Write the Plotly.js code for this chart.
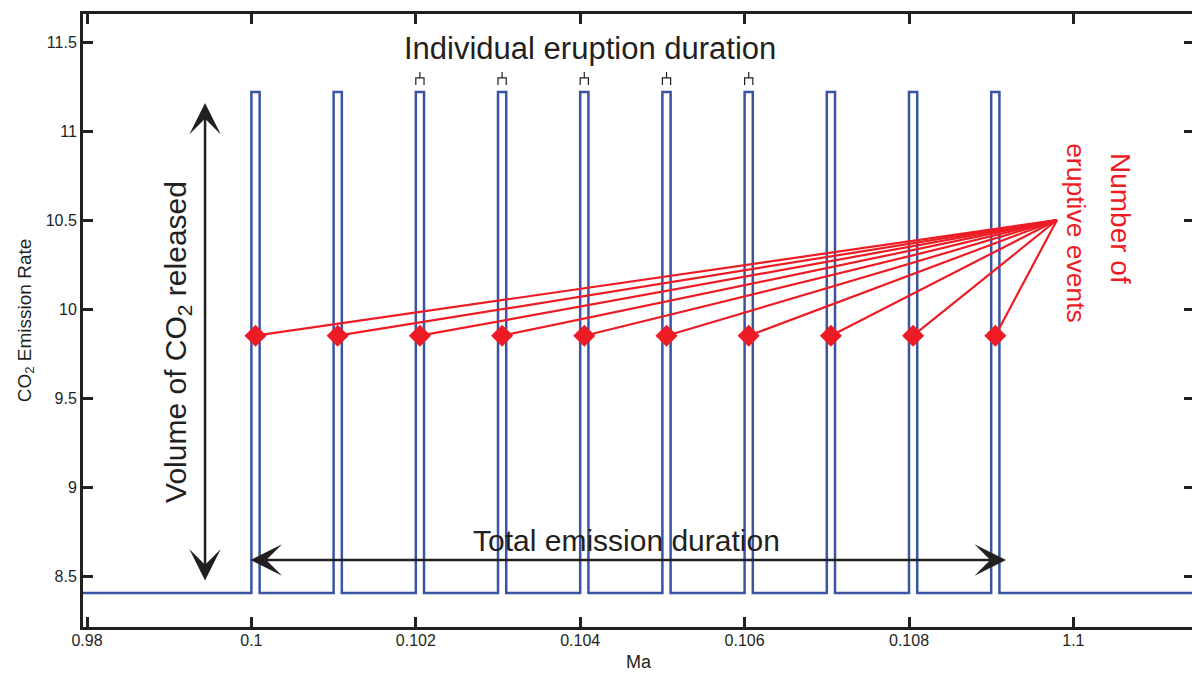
<!DOCTYPE html>
<html>
<head>
<meta charset="utf-8">
<script src="https://cdn.plot.ly/plotly-3.0.1.min.js"></script>
<style>
html, body { margin: 0; padding: 0; overflow: hidden; background: #fff; }
#chart { width: 1196px; height: 679px; }
</style>
</head>
<body>
<div id="chart"></div>
<script>
// ---- data ----
const pulseStarts = [0.100, 0.101, 0.102, 0.103, 0.104, 0.105, 0.106, 0.107, 0.108, 0.109];
const pulseDuration = 0.0001;
const baselineRate = 8.404;
const peakRate = 11.219;
const seriesStart = 0.0979;
const seriesEnd = 0.1116;
const eventX = [0.10005, 0.10105, 0.10205, 0.10305, 0.10405, 0.10505, 0.10605, 0.10705, 0.10805, 0.10905];
const eventY = [9.85, 9.85, 9.85, 9.85, 9.85, 9.85, 9.85, 9.85, 9.85, 9.85];
const convergeX = 0.1098;
const convergeY = 10.5;
const bracketPulses = [0.102, 0.103, 0.104, 0.105, 0.106];
const bracketLevels = { bottom: 11.258, bar: 11.298, top: 11.331 };
const xTickVals = [0.098, 0.100, 0.102, 0.104, 0.106, 0.108, 0.110];
const xTickText = ['0.98', '0.1', '0.102', '0.104', '0.106', '0.108', '1.1'];
const yTickVals = [8.5, 9, 9.5, 10, 10.5, 11, 11.5];
const yTickText = ['8.5', '9', '9.5', '10', '10.5', '11', '11.5'];

// ---- build step series ----
const lx = [seriesStart], ly = [baselineRate];
pulseStarts.forEach(s => {
  const e = s + pulseDuration;
  lx.push(s, s, e, e);
  ly.push(baselineRate, peakRate, peakRate, baselineRate);
});
lx.push(seriesEnd); ly.push(baselineRate);

// red connector lines
const rx = [], ry = [];
eventX.forEach((x, i) => { rx.push(x, convergeX, null); ry.push(eventY[i], convergeY, null); });

// brackets
const bx = [], by = [];
bracketPulses.forEach(s => {
  const e = s + pulseDuration, m = s + pulseDuration / 2;
  bx.push(s, s, e, e, null, m, m, null);
  by.push(bracketLevels.bottom, bracketLevels.bar, bracketLevels.bar, bracketLevels.bottom, null,
          bracketLevels.bar, bracketLevels.top, null);
});

const ink = '#231F20';
const red = '#ED1C24';
const blue = '#3A54A4';
const font = 'Liberation Sans, Arial, sans-serif';

const traces = [
  { x: lx, y: ly, mode: 'lines', line: { color: blue, width: 2.5 }, hoverinfo: 'skip' },
  { x: rx, y: ry, mode: 'lines', line: { color: red, width: 2.2 }, hoverinfo: 'skip' },
  { x: eventX, y: eventY, mode: 'markers', marker: { symbol: 'diamond', size: 17, color: red, line: { width: 0 } }, hoverinfo: 'skip' },
  { x: bx, y: by, mode: 'lines', line: { color: ink, width: 1.2 }, hoverinfo: 'skip' }
];

const arrowCommon = {
  xref: 'x', yref: 'y', axref: 'x', ayref: 'y', text: '', showarrow: true,
  arrowhead: 3, startarrowhead: 3, arrowside: 'end+start',
  arrowsize: 2.1, startarrowsize: 2.1, arrowwidth: 2.5, arrowcolor: ink,
  standoff: 0, startstandoff: 0
};

const annotations = [
  Object.assign({}, arrowCommon, { x: 0.099436, y: 11.157, ax: 0.099436, ay: 8.466 }),
  Object.assign({}, arrowCommon, { x: 0.109180, y: 8.590, ax: 0.099971, ay: 8.590 }),
  { xref: 'x', yref: 'y', x: 0.104119, y: 11.466, text: 'Individual eruption duration', showarrow: false,
    xanchor: 'center', yanchor: 'middle', font: { family: font, size: 31, color: ink } },
  { xref: 'x', yref: 'y', x: 0.104569, y: 8.702, text: 'Total emission duration', showarrow: false,
    xanchor: 'center', yanchor: 'middle', font: { family: font, size: 30, color: ink } },
  { xref: 'x', yref: 'y', x: 0.099107, y: 9.815, text: 'Volume of CO<sub>2</sub> released', showarrow: false,
    textangle: -90, xanchor: 'center', yanchor: 'middle', font: { family: font, size: 30, color: ink } },
  { xref: 'x', yref: 'y', x: 0.110580, y: 10.511, text: 'Number of', showarrow: false,
    textangle: 90, xanchor: 'center', yanchor: 'middle', font: { family: font, size: 28, color: red } },
  { xref: 'x', yref: 'y', x: 0.110030, y: 10.427, text: 'eruptive events', showarrow: false,
    textangle: 90, xanchor: 'center', yanchor: 'middle', font: { family: font, size: 26.5, color: red } }
];

const axisCommon = {
  showline: true, linewidth: 3, linecolor: ink, mirror: 'ticks',
  ticks: 'inside', ticklen: 10, tickwidth: 3, tickcolor: ink,
  showgrid: false, zeroline: false,
  tickfont: { family: font, size: 16, color: ink }
};

const layout = {
  width: 1196, height: 679,
  margin: { l: 83, r: 2, t: 14, b: 52 },
  paper_bgcolor: '#fff', plot_bgcolor: '#fff',
  showlegend: false,
  hovermode: false,
  xaxis: Object.assign({}, axisCommon, {
    range: [0.0979513, 0.1114672], tickmode: 'array', tickvals: xTickVals, ticktext: xTickText,
    ticklabelstandoff: -3,
    title: { text: 'Ma', font: { family: font, size: 18, color: ink }, standoff: 8 }
  }),
  yaxis: Object.assign({}, axisCommon, {
    range: [8.2135, 11.6573], tickmode: 'array', tickvals: yTickVals, ticktext: yTickText,
    title: { text: 'CO<sub>2</sub> Emission Rate', font: { family: font, size: 19, color: ink }, standoff: 10 }
  }),
  annotations: annotations
};

Plotly.newPlot('chart', traces, layout, { staticPlot: true, displayModeBar: false });
</script>
</body>
</html>
